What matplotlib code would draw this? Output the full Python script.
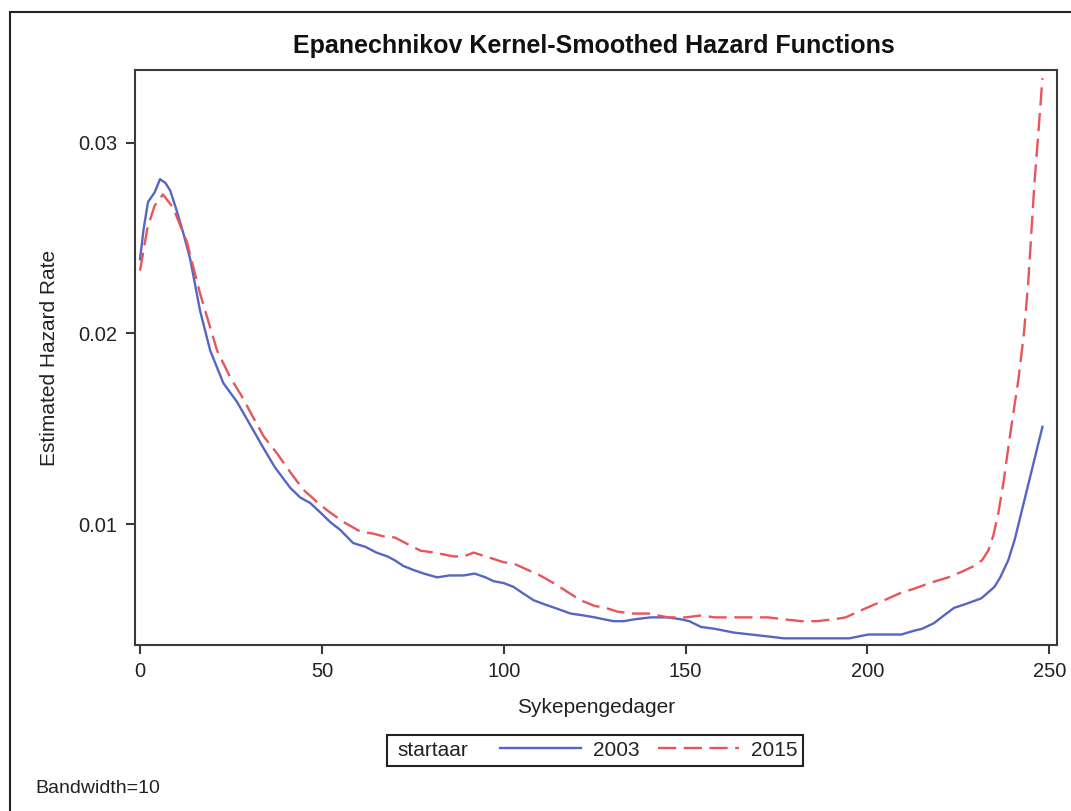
import matplotlib
matplotlib.use("Agg")
import matplotlib.pyplot as plt
from matplotlib.patches import Rectangle

plt.rcParams["font.family"] = ["Liberation Sans", "DejaVu Sans"]

# kernel-smoothed hazard, startaar = 2003
days_2003 = [0, 1, 2.2, 4, 5.5, 7, 8.3, 10, 12, 13.8,
             16.5, 19.3, 22.9, 26.7, 30, 33.9, 37, 41.3, 44, 46.8,
             49.6, 52.3, 55, 58.6, 62, 65, 68, 70, 72.4, 75,
             78, 81.7, 85, 89, 92, 95, 97.2, 100, 102.7, 105,
             108.2, 111, 114, 118.4, 122, 125, 127.5, 130.2, 133, 136,
             140.4, 145, 148.7, 151, 154.2, 158, 163.3, 168, 172.6, 177,
             181.7, 186, 190.8, 195, 200.2, 204, 209.3, 212.8, 215, 218.3,
             221, 223.8, 227, 231.3, 234.9, 236.5, 238.7, 240.5, 242.3, 245,
             248.1]
hazard_2003 = [0.0239, 0.0255, 0.0269, 0.0274, 0.0281, 0.0279, 0.0275, 0.0265, 0.0252, 0.0239,
               0.0212, 0.0191, 0.0174, 0.0164, 0.0153, 0.0140, 0.0130, 0.0119, 0.0114, 0.0111,
               0.0106, 0.0101, 0.0097, 0.0090, 0.0088, 0.0085, 0.0083, 0.0081, 0.0078, 0.0076,
               0.0074, 0.0072, 0.0073, 0.0073, 0.0074, 0.0072, 0.0070, 0.0069, 0.0067, 0.0064,
               0.0060, 0.0058, 0.0056, 0.0053, 0.0052, 0.0051, 0.0050, 0.0049, 0.0049, 0.0050,
               0.0051, 0.0051, 0.0050, 0.0049, 0.0046, 0.0045, 0.0043, 0.0042, 0.0041, 0.0040,
               0.0040, 0.0040, 0.0040, 0.0040, 0.0042, 0.0042, 0.0042, 0.0044, 0.0045, 0.0048,
               0.0052, 0.0056, 0.0058, 0.0061, 0.0067, 0.0072, 0.0081, 0.0092, 0.0106, 0.0127,
               0.0151]

# startaar = 2015
days_2015 = [0, 2, 4, 6.3, 9.1, 12.9, 16.5, 21.2, 24.8, 28,
             31.1, 34, 37.7, 41, 44.9, 49.6, 52.3, 56, 60.6, 64,
             68, 70, 73, 77.1, 81, 86.2, 89, 91.7, 95, 99.9,
             103, 106.5, 110, 113.7, 117, 121.1, 125, 128, 131.3, 135.7,
             140, 145.1, 150, 154.2, 158, 163.3, 168, 172.6, 177, 181.7,
             186, 190.8, 194, 197.4, 201, 204.6, 209.3, 212.8, 217, 222.2,
             226, 229.3, 231.5, 233.2, 234.6, 236, 237.4, 238.7, 240, 241.5,
             243, 244.2, 245.9, 247, 248.1]
hazard_2015 = [0.0233, 0.0255, 0.0267, 0.0273, 0.0266, 0.0248, 0.0221, 0.0191, 0.0177, 0.0167,
               0.0156, 0.0146, 0.0137, 0.0128, 0.0118, 0.0110, 0.0106, 0.0101, 0.0096, 0.0095,
               0.0093, 0.0093, 0.0090, 0.0086, 0.0085, 0.0083, 0.0083, 0.0085, 0.0083, 0.0080,
               0.0079, 0.0076, 0.0073, 0.0069, 0.0065, 0.0060, 0.0057, 0.0056, 0.0054, 0.0053,
               0.0053, 0.0051, 0.0051, 0.0052, 0.0051, 0.0051, 0.0051, 0.0051, 0.0050, 0.0049,
               0.0049, 0.0050, 0.0051, 0.0054, 0.0057, 0.0060, 0.0064, 0.0066, 0.0069, 0.0072,
               0.0075, 0.0078, 0.0081, 0.0086, 0.0094, 0.0106, 0.0122, 0.0140, 0.0157, 0.0176,
               0.0200, 0.0227, 0.0279, 0.0306, 0.0334]

x_ticks = [0, 50, 100, 150, 200, 250]
y_ticks = [0.01, 0.02, 0.03]
y_ticklabels = ["0.01", "0.02", "0.03"]

BLUE = "#5566c4"
RED = "#e8555b"
DARK = "#3a3a3a"
W, H = 1071, 811

fig = plt.figure(figsize=(W / 100, H / 100), dpi=100)
ax = fig.add_axes([135 / W, 1 - 645 / H, (1057 - 135) / W, (645 - 70) / H])

l1, = ax.plot(days_2003, hazard_2003, color=BLUE, lw=1.7, label="2003")
l2, = ax.plot(days_2015, hazard_2015, color=RED, lw=1.7, dashes=(7.7, 3.2), label="2015")

ax.set_xlim(-1.38, 252.1)
ax.set_ylim(0.00365, 0.03383)
ax.set_xticks(x_ticks)
ax.set_yticks(y_ticks)
ax.set_yticklabels(y_ticklabels)
for s in ax.spines.values():
    s.set_color(DARK)
    s.set_linewidth(1.5)
ax.tick_params(direction="out", length=6.5, width=1.5, color=DARK,
               labelsize=14.5, labelcolor="#222222", pad=6)
ax.set_xlabel("Sykepengedager", fontsize=15, color="#222222", labelpad=12)
ax.set_ylabel("Estimated Hazard Rate", fontsize=15, color="#222222", labelpad=14)

fig.text(594 / W, 1 - 53 / H, "Epanechnikov Kernel-Smoothed Hazard Functions",
         ha="center", va="baseline", fontsize=18, fontweight="bold", color="#111111")

# legend: "startaar" label + two entries inside one frame
fig.add_artist(Rectangle((387 / W, 1 - 766 / H), (803 - 387) / W, 31 / H,
                         transform=fig.transFigure, fill=False, ec="#222222", lw=1.5))
fig.text(397 / W, 1 - 750 / H, "startaar", ha="left", va="center",
         fontsize=15, color="#222222")
ax.legend(handles=[l1, l2], ncol=2, frameon=False, fontsize=15,
          loc="center left", bbox_to_anchor=(500 / W, 1 - 750 / H),
          bbox_transform=fig.transFigure, borderpad=0, borderaxespad=0,
          handlelength=3.9, handletextpad=0.55, columnspacing=0.9,
          labelcolor="#222222")

fig.text(35 / W, 1 - 793 / H, "Bandwidth=10", ha="left", va="baseline",
         fontsize=14, color="#222222")

# outer frame around the whole graph
fig.add_artist(Rectangle((10 / W, -0.05), 1.2, 1 - 12 / H + 0.05,
                         transform=fig.transFigure, fill=False, ec="#222222", lw=1.5))

fig.savefig("out.png", dpi=100)
